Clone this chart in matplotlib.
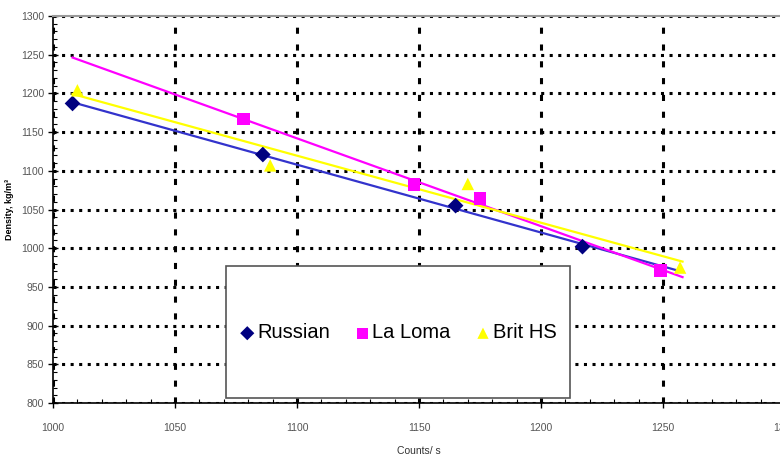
import numpy as np
import matplotlib.pyplot as plt
from matplotlib.ticker import MultipleLocator

# ---------- Datos ----------
series = ["Russian", "La Loma", "Brit HS"]
russian_x = [1008, 1086, 1165, 1217]
russian_y = [1187, 1121, 1055, 1002]
laloma_x = [1078, 1148, 1175, 1249]
laloma_y = [1167, 1082, 1064, 971]
brit_x = [1010, 1089, 1170, 1257]
brit_y = [1204, 1107, 1083, 975]

colores = ["#000080", "#FF00FF", "#FFFF00"]
lineas = ["#3333CC", "#FF00FF", "#FFFF00"]
marcadores = ["D", "s", "^"]
trend_range = [1008, 1258]

plt.rcParams['font.family'] = ['Liberation Sans', 'DejaVu Sans']

fig = plt.figure(figsize=(7.8, 4.59), dpi=100)
ax = fig.add_axes([53 / 780, 56 / 459, 732 / 780, 387 / 459])

datos = [(russian_x, russian_y), (laloma_x, laloma_y), (brit_x, brit_y)]
xt = np.array(trend_range, dtype=float)
for (x, y), lc in zip(datos, lineas):
    a, b = np.polyfit(x, y, 1)
    ax.plot(xt, a * xt + b, color=lc, lw=1.6, zorder=3)

handles = []
for (x, y), nombre, c, m in zip(datos, series, colores, marcadores):
    ms = 8 if m == "D" else 9
    h = ax.scatter(x, y, marker=m, s=ms ** 2, color=c, label=nombre, zorder=4,
                   edgecolors='none')
    handles.append(h)

ax.set_xlim(1000, 1300)
ax.set_ylim(800, 1300)
ax.xaxis.set_major_locator(MultipleLocator(50))
ax.xaxis.set_minor_locator(MultipleLocator(10))
ax.yaxis.set_major_locator(MultipleLocator(50))
ax.yaxis.set_minor_locator(MultipleLocator(10))

ax.grid(True, which='major', axis='y', color='black', lw=2.2, linestyle=(0, (1.0, 1.8)))
ax.grid(True, which='major', axis='x', color='black', lw=2.2, linestyle=(0, (2.0, 3.5)))
ax.set_axisbelow(True)

ax.spines['top'].set_color('#999999')
ax.spines['top'].set_linewidth(1.5)
ax.spines['right'].set_visible(False)
ax.spines['left'].set_linewidth(1.2)
ax.spines['bottom'].set_linewidth(1.2)

ax.tick_params(which='major', direction='inout', length=7, width=1, labelsize=7.5,
               labelcolor='#555555')
ax.tick_params(which='minor', direction='in', length=3, width=0.8)
ax.tick_params(axis='x', which='major', pad=11)
ax.tick_params(axis='y', which='major', pad=3)

ax.set_xlabel("Counts/ s", fontsize=7.5, color='#333333', labelpad=9)
ax.set_ylabel("Density, kg/m³", fontsize=6.5, fontweight='bold', labelpad=5)

# caja de la leyenda (marco aparte, más alto que el texto)
caja = plt.Rectangle((226 / 780, 1 - 398 / 459), 344 / 780, 132 / 459,
                     transform=fig.transFigure, facecolor='white',
                     edgecolor='#555555', lw=1.2, zorder=4)
fig.patches.append(caja)

leg = fig.legend(handles=handles, loc='center', ncol=3,
                 bbox_to_anchor=((226 + 570) / 2 / 780, 1 - (268 + 398) / 2 / 459),
                 fontsize=14.5, frameon=False, handletextpad=0.1, columnspacing=1.2,
                 handlelength=0.8, borderaxespad=0, markerscale=0.9)
leg.set_zorder(5)

fig.savefig("out.png", dpi=100)
